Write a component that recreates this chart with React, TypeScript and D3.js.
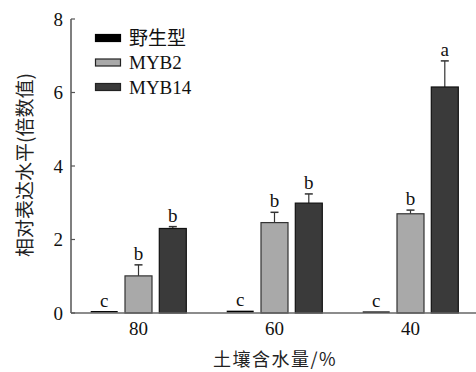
import React from "react";
import * as d3 from "d3";

const categories = ["80", "60", "40"];
const seriesNames = ["野生型", "MYB2", "MYB14"];
const wildType = [0.04, 0.05, 0.03];
const myb2 = [1.01, 2.46, 2.7];
const myb14 = [2.3, 2.99, 6.15];
const myb2Err = [0.3, 0.28, 0.1];
const myb14Err = [0.05, 0.25, 0.71];
const wildErr = [0, 0, 0];
const letters = [
  ["c", "c", "c"],
  ["b", "b", "b"],
  ["b", "b", "a"],
];
const yTicks = [0, 2, 4, 6, 8];

const fills = ["#000000", "#a9a9a9", "#3a3a3a"];
const strokes = ["#000000", "#333333", "#111111"];

export default function App() {
  const W = 476, H = 372;
  const x0 = d3.scaleBand().domain(categories).range([70.5, 478.5]);
  const y = d3.scaleLinear().domain([0, 8]).range([313, 19]);
  const values = [wildType, myb2, myb14];
  const errs = [wildErr, myb2Err, myb14Err];
  const barW = 27;
  const step = 34.3;
  const serif = "'Liberation Serif', 'DejaVu Serif', serif";
  const cjk = "'Noto Sans CJK SC', sans-serif";
  return (
    <svg width={W} height={H} style={{ position: "absolute", left: 0, top: 0, background: "#fff" }}>
      {/* bars */}
      {categories.map((c, ci) => {
        const cx = (x0(c) as number) + x0.bandwidth() / 2;
        return (
          <g key={c}>
            {values.map((vals, si) => {
              const bx = cx + (si - 1) * step - barW / 2;
              const v = vals[ci];
              const top = y(v);
              const e = errs[si][ci];
              const et = y(v + e);
              const labelY = (e > 0 ? et : top) - 5;
              return (
                <g key={si}>
                  {e > 0 && (
                    <g stroke="#333" strokeWidth={1.2}>
                      <line x1={bx + barW / 2} x2={bx + barW / 2} y1={top} y2={et} />
                      <line x1={bx + barW / 2 - 4} x2={bx + barW / 2 + 4} y1={et} y2={et} strokeWidth={1.5} />
                    </g>
                  )}
                  {si === 0 ? (
                    <rect x={bx} y={top - 0.5} width={barW} height={Math.max(y(0) - top, 1.5)} fill="#000" />
                  ) : (
                    <rect x={bx} y={top} width={barW} height={y(0) - top} fill={fills[si]} stroke={strokes[si]} strokeWidth={1.2} />
                  )}
                  <text x={bx + barW / 2} y={labelY} textAnchor="middle" fontFamily={serif} fontSize={19} fill="#111">
                    {letters[si][ci]}
                  </text>
                </g>
              );
            })}
            <text x={cx} y={335} textAnchor="middle" fontFamily={serif} fontSize={19} fill="#111">
              {c}
            </text>
          </g>
        );
      })}
      {/* axes */}
      <line x1={71} x2={71} y1={19} y2={313} stroke="#555" strokeWidth={1.5} />
      <line x1={71} x2={476} y1={313} y2={313} stroke="#666" strokeWidth={1.5} />
      {yTicks.map((t) => (
        <g key={t}>
          <line x1={71} x2={75} y1={y(t)} y2={y(t)} stroke="#555" strokeWidth={1.2} />
          <text x={63} y={y(t) + 6.5} textAnchor="end" fontFamily={serif} fontSize={19} fill="#111">
            {t}
          </text>
        </g>
      ))}
      {/* legend */}
      {seriesNames.map((n, i) => (
        <g key={n}>
          <rect x={95.5} y={34.5 + i * 24.5} width={25} height={7} fill={fills[i]} stroke={i === 0 ? "#000" : "#222"} strokeWidth={1.2} />
          <text x={129} y={i === 0 ? 45 : 44.5 + i * 24.5} fontFamily={i === 0 ? cjk : serif} fontSize={19} fill="#111">
            {n}
          </text>
        </g>
      ))}
      {/* titles */}
      <text x={275} y={366} textAnchor="middle" fontFamily={cjk} fontSize={18} letterSpacing={1.5} fill="#222">
        土壤含水量/%
      </text>
      <text transform="translate(32,165) rotate(-90)" textAnchor="middle" fontFamily={cjk} fontSize={19} fill="#222">
        相对表达水平(倍数值)
      </text>
    </svg>
  );
}
